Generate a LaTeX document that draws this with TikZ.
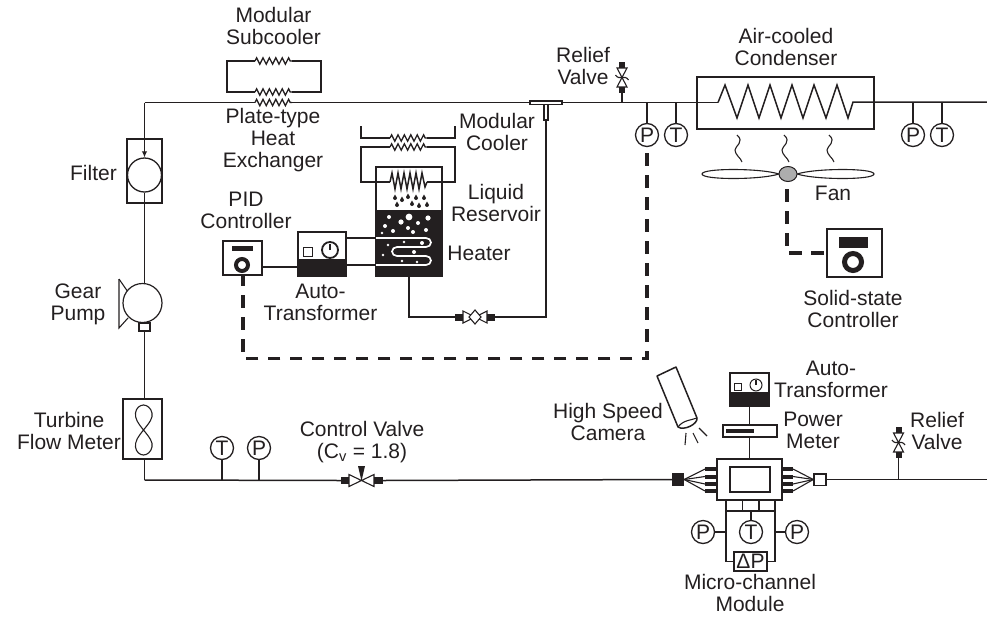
\documentclass[tikz,border=0pt]{standalone}
\usepackage{fontspec}
\setmainfont{Liberation Sans}
\usepackage{xcolor}
\usetikzlibrary{arrows.meta,decorations.pathmorphing,shapes.geometric}
\definecolor{ink}{HTML}{231F20}
\tikzset{
  pipe/.style={draw=ink,line width=1.5pt},
  thin pipe/.style={draw=ink,line width=1.1pt},
  coil/.style={pipe,line width=1.3pt,decorate,decoration={zigzag,segment length=6.4pt,amplitude=3.2pt}},
  dsh/.style={draw=ink,line width=3.2pt,dash pattern=on 12.5pt off 9.5pt},
  unit/.style={draw=ink,line width=1.5pt,fill=white,inner sep=0pt,rectangle},
  gauge/.style={draw=ink,line width=1.3pt,fill=white,circle,inner sep=0pt,minimum size=23pt,
                text=ink,font=\fontsize{21}{22}\selectfont},
  lbl/.style={align=center,inner sep=0pt,text=ink,font=\fontsize{21}{22}\selectfont},
  solid black/.style={fill=ink,draw=none,rectangle,inner sep=0pt},
  bub/.style={fill=white,draw=none,circle,inner sep=0pt},
  fl/.style={-{Latex[length=6pt,width=5.5pt]},pipe},
}
% vertical relief valve, #1 is its lower end
\newcommand{\reliefvalve}[1]{
  \begin{scope}[shift={(#1)}]
    \fill[ink] (-3,-6) rectangle (3,0);
    \fill[ink] (-3,-31) rectangle (3,-25);
    \draw[thin pipe,line join=miter] (-5,-6) -- (5,-25) -- (-5,-25) -- (5,-6) -- cycle;
    \draw[thin pipe] (-6.5,-18) .. controls (-3,-12) and (3,-19) .. (6.5,-13);
  \end{scope}}
\begin{document}
\begin{tikzpicture}[x=1pt,y=-1pt]
\useasboundingbox (0,0) rectangle (987,619);
% upper line
\coordinate (corner) at (144.5,102.5);
\coordinate (hxa) at (255,102.5);
\coordinate (hxb) at (292,102.5);
\node[unit,minimum width=4pt,minimum height=16pt] (teeb) at (546,112) {};
\node[unit,minimum width=32pt,minimum height=3.5pt] (tee) at (546,102.5) {};
\coordinate (condin) at (718,102.5);
\coordinate (condout) at (853,102);
\coordinate (endup) at (987,102);
\node[unit,minimum width=177pt,minimum height=52pt] (cond) at (785.5,103) {};
\draw[pipe] (hxb) -- (tee.west);
\draw[pipe] (tee.east) -- (condin);
\draw[coil] (hxa) -- (hxb);
\draw[pipe] (corner) -- (hxa);
\draw[pipe,line join=miter] (condin) -- (725,85) -- (737,118) -- (748,85) -- (759,118) -- (770,85)
  -- (781,118) -- (792,85) -- (803,118) -- (814,85) -- (826,118) -- (837,85) -- (848,118)
  -- (condout) -- (endup);
% subcooler
\coordinate (sca) at (255,61);
\coordinate (scb) at (292,61);
\coordinate (scc) at (255,92);
\coordinate (scd) at (292,92);
\draw[coil] (sca) -- (scb);
\draw[coil] (scc) -- (scd);
\draw[pipe] (sca) -- (227,61) -- (227,92) -- (scc);
\draw[pipe] (scb) -- (321,61) -- (321,92) -- (scd);
\node[lbl] (sclab) at (273.5,26) {Modular\\Subcooler};
\node[lbl] (hxlab) at (273,140.5) {Plate-type\\Heat\\Exchanger};
% left column
\node[unit,minimum width=35pt,minimum height=64pt] (filter) at (144.5,171) {};
\node[draw=ink,line width=1.3pt,circle,inner sep=0pt,minimum size=34pt] (fcirc) at (144.5,175) {};
\draw[fl] (corner) -- (fcirc.north);
\node[lbl,anchor=east] (flab) at (117,173) {Filter};
\draw[thin pipe] (119,279) -- (119,328) -- (128,318);
\draw[thin pipe] (119,279) -- (128,292);
\node[unit,circle,line width=1.2pt,minimum size=39pt] (pump) at (142.5,303) {};
\node[unit,line width=1.2pt,minimum width=11pt,minimum height=8pt] (pumpout) at (144.5,327) {};
\draw[pipe] (fcirc.south) -- (144.5,283);
\node[lbl] (plab) at (78,304) {Gear\\Pump};
\node[unit,minimum width=39pt,minimum height=60pt] (meter) at (142.5,429) {};
\draw[thin pipe] (143.5,430) .. controls (150,422) and (153,418) .. (152,413)
  .. controls (151,408) and (147,405) .. (143.5,405) .. controls (140,405) and (136,408) .. (135.5,413)
  .. controls (135,418) and (137,422) .. (143.5,430) .. controls (150,438) and (153,442) .. (152,447)
  .. controls (151,452) and (147,455) .. (143.5,455) .. controls (140,455) and (136,452) .. (135.5,447)
  .. controls (135,442) and (137,438) .. (143.5,430);
\draw[pipe] (pumpout.south) -- (144.5,399);
\node[lbl] (mlab) at (69,431) {Turbine\\Flow Meter};
% lower line
\coordinate (lowc) at (144.5,480);
\draw[pipe] (144.5,459) -- (lowc);
\node[gauge] (tlow) at (222,448) {T};
\node[gauge] (plow) at (259,448) {P};
\node[solid black,minimum width=8pt,minimum height=7.5pt] (cva) at (345,480.5) {};
\node[solid black,minimum width=9pt,minimum height=7.5pt] (cvb) at (378.5,480.5) {};
\draw[pipe] (lowc) -- (cva.west);
\draw[pipe] (tlow.south) -- (tlow.south |- lowc);
\draw[pipe] (plow.south) -- (plow.south |- lowc);
\draw[thin pipe,line join=miter] (349,474.5) -- (374,486.5) -- (374,474.5) -- (349,486.5) -- cycle;
\fill[ink] (358,466) -- (365,466) -- (361.5,481) -- cycle;
\node[lbl] (cvlab) at (362,442) {Control Valve\\(C\textsubscript{v} = 1.8)};
% module
\node[solid black,minimum width=12pt,minimum height=13pt] (inl) at (678,479.5) {};
\node[unit,minimum width=12pt,minimum height=11.5pt] (outl) at (820,479.5) {};
\draw[pipe] (cvb.east) -- (inl.west);
\draw[pipe] (outl.east) -- (987,479.5);
\foreach \y in {469,476.5,484,491}{
  \fill[ink] (705,\y-2) rectangle (717,\y+2);
  \fill[ink] (782,\y-2) rectangle (793,\y+2);
  \draw[thin pipe] (inl.east) -- (705,\y);
  \draw[thin pipe] (outl.west) -- (793,\y);
}
\node[unit,minimum width=65pt,minimum height=41pt] (mod) at (749.5,479.5) {};
\node[unit,minimum width=40pt,minimum height=25pt] (modin) at (750,479.5) {};
\node[unit,minimum width=49pt,minimum height=11pt] (cells) at (750.5,505.5) {};
\draw[pipe] (742.5,500) -- (742.5,511);
\draw[pipe] (759,500) -- (759,511);
\node[unit,minimum width=33pt,minimum height=19pt,font=\fontsize{21}{22}\selectfont,text=ink] (dp) at (750.5,561.5) {ΔP};
\draw[pipe] (726,511) -- (726,561.5) -- (dp.west);
\draw[pipe] (775,511) -- (775,561.5) -- (dp.east);
\node[gauge] (pa) at (703,532) {P};
\node[gauge] (ta) at (751,532) {T};
\node[gauge] (pb) at (797,532) {P};
\draw[pipe] (pa.east) -- (726,532);
\draw[pipe] (pb.west) -- (775,532);
\draw[pipe] (ta.north) -- (751,511);
\node[lbl] (mclab) at (750,592.5) {Micro-channel\\Module};
% power meter and auto-transformer
\node[unit,minimum width=54pt,minimum height=12pt] (pm) at (750,431) {};
\fill[ink] (726,429) rectangle (754,433);
\node[unit,minimum width=39pt,minimum height=33pt] (atb) at (749.5,389.5) {};
\fill[ink] (730,392) rectangle (769,406);
\node[unit,minimum width=7pt,minimum height=7pt,line width=1pt] (atbs) at (738,387) {};
\node[unit,circle,minimum size=12pt,line width=1pt] (atbd) at (756,385) {};
\draw[thin pipe] (atbd.center) -- (756,380);
\draw[pipe] (atb.south) -- (atb.south |- pm.north);
\draw[pipe] (pm.south -| atb.south) -- (atb.south |- mod.north);
\node[lbl] (atblab) at (831,379) {Auto-\\Transformer};
\node[lbl] (pmlab) at (813,430) {Power\\Meter};
% camera
\draw[pipe,line join=round] (657,376) -- (676,367) -- (697,418) .. controls (698,424) and (684,431) .. (678,427) -- cycle;
\draw[thin pipe] (678,427) .. controls (683,420) and (692,420) .. (697,418);
\draw[thin pipe] (686,433) -- (685,445);
\draw[thin pipe] (693,433) -- (698,443);
\draw[thin pipe] (699,428) -- (707,436);
\node[lbl] (camlab) at (608,422) {High Speed\\Camera};
% relief valves
\reliefvalve{622,93}
\draw[pipe] (622,93) -- (622,102.5);
\node[lbl] (rvlab) at (583,65.5) {Relief\\Valve};
\reliefvalve{898.5,458}
\draw[pipe] (898.5,458) -- (898.5,479.5);
\node[lbl] (rvblab) at (937,430.5) {Relief\\Valve};
% condenser side
\node[lbl] (condlab) at (786,47) {Air-cooled\\Condenser};
\node[gauge] (pc) at (647,135) {P};
\node[gauge] (tc) at (676,135) {T};
\node[gauge] (pd) at (913,135) {P};
\node[gauge] (td) at (942,135) {T};
\draw[pipe] (pc.north) -- (647,102.5);
\draw[pipe] (tc.north) -- (676,102.5);
\draw[pipe] (pd.north) -- (913,102);
\draw[pipe] (td.north) -- (942,102);
\foreach \x in {735,782,827}{
  \draw[thin pipe] (\x+2,135) .. controls (\x+10,142) and (\x,146) .. (\x,150) .. controls (\x,155) and (\x+6,158) .. (\x+7,162);
}
% fan
\draw[thin pipe] (779,174) .. controls (760,168) and (702,168) .. (702,174) .. controls (702,180) and (760,180) .. (779,174);
\draw[thin pipe] (797,174) .. controls (816,168) and (874,168) .. (874,174) .. controls (874,180) and (816,180) .. (797,174);
\node[draw=ink,line width=1pt,fill=black!32,ellipse,inner sep=0pt,minimum width=18pt,minimum height=15pt] (hub) at (788,174) {};
\node[lbl] (fanlab) at (833,193) {Fan};
\node[unit,minimum width=55pt,minimum height=48pt] (ssc) at (854.5,253) {};
\fill[ink] (839,237) rectangle (868,248);
\node[circle,draw=ink,line width=5pt,fill=white,inner sep=0pt,minimum size=17pt] (sscr) at (853,262) {};
\coordinate (hubb) at (787,189);
\draw[dsh] (hubb) -- (787,253) -- (ssc.west);
\node[lbl] (ssclab) at (853,309) {Solid-state\\Controller};
% reservoir
\node[unit,minimum width=66pt,minimum height=109pt] (res) at (409,221.5) {};
\fill[ink] (376,210) rectangle (442,276);
\foreach \x/\y/\r in {389/217/2,409/217/3.4,401/222/2.6,428/218/2.6,418/223/2,385/226/2,393/231/2,408/228/2,413/232/2,426/230/2,382/233/1.4,388/245/1.4,404/242/1.4,422/243/2,414/252/2,383/255/1.4,402/261/1.4,417/262/1.4}{
  \node[bub,minimum size=2*\r pt] at (\x,\y) {};
}
\foreach \x/\y in {395/198,402/200,408/197,416/198,424/198,397/205,412/204,427/205,419/206}{
  \fill[ink] (\x,\y-3.5) -- (\x+2,\y) arc (0:180:2) -- cycle;
}
\draw[white,line width=1.7pt] (376,238) -- (426,238) arc (-90:90:5 and 4.5) -- (397,247) arc (-90:-270:5 and 4.5) -- (426,256) arc (-90:90:5 and 4.5) -- (376,265);
% modular cooler
\coordinate (mca) at (390,138);
\coordinate (mcb) at (427,138);
\coordinate (mcc) at (390,147);
\coordinate (mcd) at (427,147);
\draw[coil] (mca) -- (mcb);
\draw[coil] (mcc) -- (mcd);
\draw[pipe] (361,126) -- (361,138) -- (mca);
\draw[pipe] (mcb) -- (455,138) -- (455,126);
\draw[pipe] (mcc) -- (361,147) -- (361,182) -- (390,182);
\draw[pipe] (mcd) -- (455,147) -- (455,182) -- (427,182);
\draw[pipe,line join=miter] (390,182) -- (392,173) -- (395,189) -- (398,173) -- (401,189) -- (404,173) -- (407,189) -- (410,173) -- (413,189) -- (416,173) -- (419,189) -- (422,173) -- (425,187) -- (427,182);
\node[lbl] (mclabel) at (497,131.5) {Modular\\Cooler};
\node[lbl] (rslab) at (496,203) {Liquid\\Reservoir};
\node[lbl] (htlab) at (479,253) {Heater};
% auto-transformer and PID
\node[unit,minimum width=48pt,minimum height=44pt] (ata) at (322,254) {};
\fill[ink] (298,259) rectangle (346,276);
\node[unit,minimum width=9pt,minimum height=9pt,line width=1.8pt] (atas) at (308,252) {};
\node[unit,circle,minimum size=16pt,line width=1.8pt] (atad) at (330,250) {};
\draw[thin pipe] (atad.center) -- (330,244);
\draw[pipe] (346,238) -- (376,238);
\draw[pipe] (346,265) -- (376,265);
\node[unit,minimum width=39pt,minimum height=34pt] (pid) at (242.5,258) {};
\fill[ink] (232,246) rectangle (253,251);
\node[circle,draw=ink,line width=4pt,fill=white,inner sep=0pt,minimum size=12pt] (pidr) at (242,265) {};
\draw[pipe] (262,267) -- (298,267);
\node[lbl] (pidlab) at (246,210.5) {PID\\Controller};
\node[lbl] (atalab) at (320.5,302) {Auto-\\Transformer};
% return line
\node[solid black,minimum width=8pt,minimum height=7pt] (bva) at (459,317) {};
\node[solid black,minimum width=8pt,minimum height=7pt] (bvb) at (491,317) {};
\draw[thin pipe,line join=miter] (463,311) -- (487,323) -- (487,311) -- (463,323) -- cycle;
\draw[thin pipe,fill=white,line join=miter] (475,310) -- (481,317) -- (475,324) -- (469,317) -- cycle;
\draw[pipe] (res.south) |- (bva.west);
\draw[pipe] (bvb.east) -| (teeb.south);
% signal lines
\coordinate (pidb) at (243,275);
\draw[dsh,shorten <=6pt] (pc.south) -- (647,358.5) -- (243,358.5) -- (pidb);
\end{tikzpicture}
\end{document}
